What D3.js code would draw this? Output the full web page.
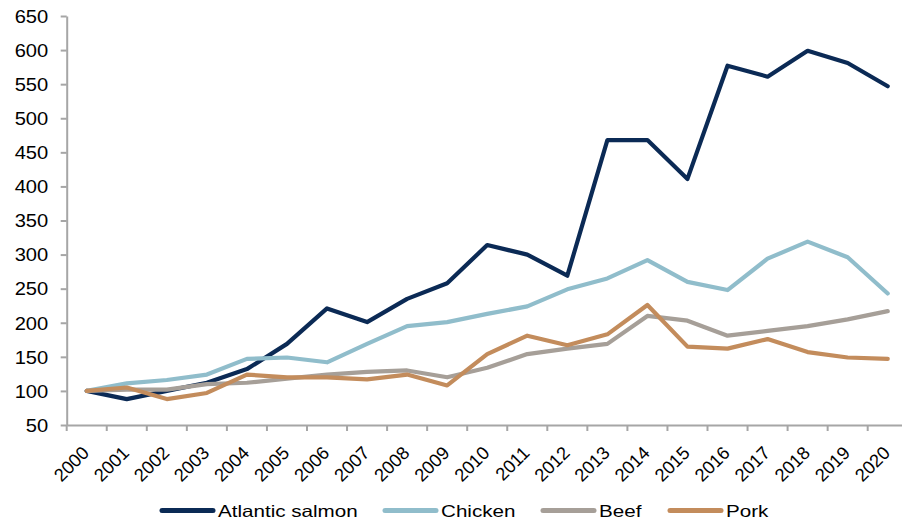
<!DOCTYPE html>
<html>
<head>
<meta charset="utf-8">
<script src="https://cdn.jsdelivr.net/npm/d3@7/dist/d3.min.js"></script>
<style>
  html, body { margin: 0; padding: 0; background: #fff; }
  svg { display: block; font-family: "Liberation Sans", Arial, sans-serif; }
</style>
</head>
<body>
<svg id="chart" width="902" height="523"></svg>
<script>
// Price index, 2000 = 100
const years = ["2000","2001","2002","2003","2004","2005","2006","2007","2008","2009","2010",
               "2011","2012","2013","2014","2015","2016","2017","2018","2019","2020"];
const salmon  = [100, 88, 100, 112, 132, 169, 221, 201, 235, 258, 314, 300, 269, 468, 468, 411, 577, 561, 599, 581, 547];
const chicken = [100, 111, 116, 124, 147, 149, 142, 169, 195, 201, 213, 224, 249, 265, 292, 260, 248, 294, 319, 296, 243];
const beef    = [100, 102, 102, 110, 112, 118, 124, 128, 130, 120, 134, 154, 162, 169, 210, 203, 181, 188, 195, 205, 217];
const pork    = [100, 105, 88, 97, 124, 120, 120, 117, 124, 108, 154, 181, 167, 183, 226, 165, 162, 176, 157, 149, 147];
const yTicks  = [50, 100, 150, 200, 250, 300, 350, 400, 450, 500, 550, 600, 650];

const seriesNames  = ["Atlantic salmon", "Chicken", "Beef", "Pork"];
const seriesColors = ["#0b2a55", "#90bdcb", "#a69f98", "#c38c5c"];
const seriesValues = [salmon, chicken, beef, pork];

const series = seriesNames.map((name, i) => ({ name, color: seriesColors[i], values: seriesValues[i] }));

const svg = d3.select("#chart");
const axisColor = "#a6a6a6";

const plotLeft = 66.7, plotTop = 16, plotBottom = 425, step = 40.05;
const x = d3.scaleBand().domain(years).range([plotLeft, plotLeft + step * years.length]).padding(0);
const y = d3.scaleLinear().domain([50, 650]).range([plotBottom, plotTop]);
const cx = d => x(d) + x.bandwidth() / 2;

// Y axis
const yAxis = svg.append("g").attr("transform", `translate(${plotLeft},0)`)
  .call(d3.axisLeft(y).tickValues(yTicks).tickSize(6).tickSizeOuter(0).tickFormat(d3.format("d")));
yAxis.select(".domain").attr("stroke", axisColor).attr("stroke-width", 2);
yAxis.selectAll(".tick line").attr("stroke", axisColor).attr("stroke-width", 2);
yAxis.selectAll(".tick text").remove();
yAxis.selectAll(".tick").append("text")
  .attr("transform", "translate(-18.5,0) scale(1.15,1)")
  .attr("text-anchor", "end")
  .attr("dy", "0.36em")
  .attr("fill", "#000")
  .style("font-size", "17.5px")
  .text(d => d);

// X axis: labels centred on each year, ticks on category boundaries
const xAxis = svg.append("g").attr("transform", `translate(0,${plotBottom})`)
  .call(d3.axisBottom(x).tickSize(0).tickSizeOuter(0));
xAxis.select(".domain").attr("stroke", axisColor).attr("stroke-width", 2);
xAxis.selectAll(".tick text")
  .attr("text-anchor", "end")
  .attr("transform", "translate(3.5,29) rotate(-45)")
  .attr("y", 0).attr("dy", 0)
  .attr("fill", "#000")
  .style("font-size", "18.3px");
svg.append("g").selectAll("line").data(years).join("line")
  .attr("x1", d => x(d)).attr("x2", d => x(d))
  .attr("y1", plotBottom).attr("y2", plotBottom + 6)
  .attr("stroke", axisColor).attr("stroke-width", 2);

// Lines
const line = d3.line().x((v, i) => cx(years[i])).y(v => y(v));
svg.append("g").selectAll("path").data(series).join("path")
  .attr("d", s => line(s.values))
  .attr("fill", "none")
  .attr("stroke", s => s.color)
  .attr("stroke-width", 4.2)
  .attr("stroke-linejoin", "round")
  .attr("stroke-linecap", "round");

// Legend
const legendX = [162, 385, 543, 670];
const legend = svg.append("g").selectAll("g").data(series).join("g")
  .attr("transform", (s, i) => `translate(${legendX[i]},510.5)`);
legend.append("line")
  .attr("x1", 0).attr("x2", 51).attr("y1", 0).attr("y2", 0)
  .attr("stroke", s => s.color).attr("stroke-width", 5)
  .attr("stroke-linecap", "round");
legend.append("text")
  .attr("transform", "translate(56,6.5) scale(1.25,1)")
  .attr("fill", "#000")
  .style("font-size", "16.5px")
  .text(s => s.name);
</script>
</body>
</html>
